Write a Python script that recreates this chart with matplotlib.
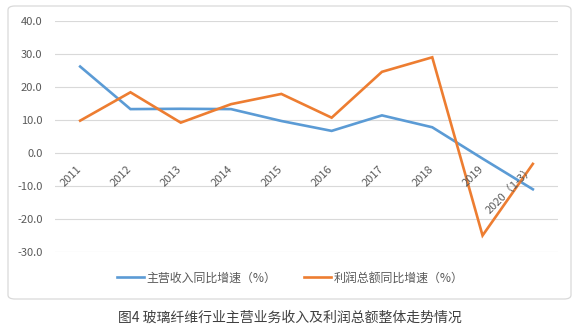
import matplotlib.pyplot as plt
import matplotlib.transforms as mtransforms
from matplotlib.patches import FancyBboxPatch
from matplotlib.lines import Line2D

plt.rcParams['font.family'] = ['Noto Sans CJK SC', 'DejaVu Sans']

# 数据
years = ["2011", "2012", "2013", "2014", "2015", "2016", "2017", "2018", "2019", "2020（1-3）"]
revenue_growth = [26.2, 13.3, 13.4, 13.3, 9.7, 6.7, 11.4, 7.8, -1.7, -11.0]
profit_growth = [9.8, 18.4, 9.2, 14.8, 17.9, 10.7, 24.6, 29.0, -25.0, -3.3]
yticks = [-30, -20, -10, 0, 10, 20, 30, 40]
label_rev = "主营收入同比增速（%）"
label_profit = "利润总额同比增速（%）"
caption = "图4 玻璃纤维行业主营业务收入及利润总额整体走势情况"

blue = "#5B9BD5"
orange = "#ED7D31"
grid_c = "#D9D9D9"
txt_c = "#595959"

fig = plt.figure(figsize=(5.78, 3.32), dpi=100)

# 外框
frame = FancyBboxPatch((8 / 578, 1 - 299 / 332), 563 / 578, 293 / 332,
                       boxstyle="round,pad=0,rounding_size=0.012",
                       transform=fig.transFigure, facecolor="white",
                       edgecolor=grid_c, linewidth=0.9, zorder=-10)
fig.patches.append(frame)

ax = fig.add_axes([55 / 578, 1 - 252 / 332, 503 / 578, 231 / 332])
ax.set_zorder(5)
ax.set_facecolor("none")
x = list(range(len(years)))
ax.plot(x, revenue_growth, color=blue, lw=1.9, solid_joinstyle="miter")
ax.plot(x, profit_growth, color=orange, lw=1.9, solid_joinstyle="miter")

ax.set_xlim(-0.5, len(years) - 0.5)
ax.set_ylim(-30, 40)
ax.set_yticks(yticks)
ax.set_yticklabels([f"{v:.1f}" for v in yticks], color=txt_c, fontsize=8)
ax.tick_params(axis="y", length=0, pad=9)
ax.set_xticks([])
ax.grid(axis="y", color=grid_c, lw=0.8)
ax.set_axisbelow(True)
for s in ax.spines.values():
    s.set_visible(False)

# 类别标签，贴在0轴下方，倾斜45度
off = mtransforms.ScaledTranslation(3 / 100, -11 / 100, fig.dpi_scale_trans)
for i, lab in enumerate(years):
    ax.text(i, 0, lab, rotation=45, ha="right", va="top", fontsize=8,
            color=txt_c, transform=ax.transData + off)

handles = [Line2D([], [], color=blue, lw=1.9), Line2D([], [], color=orange, lw=1.9)]
fig.legend(handles, [label_rev, label_profit], loc="center", ncol=2,
           bbox_to_anchor=(290 / 578, 1 - 278 / 332), frameon=False,
           fontsize=8.6, labelcolor=txt_c, handlelength=2.3,
           handletextpad=0.2, columnspacing=2.3)

fig.text(290 / 578, 1 - 318 / 332, caption, ha="center", va="center",
         fontsize=10, color="#404040")

fig.savefig("out.png", dpi=100)
